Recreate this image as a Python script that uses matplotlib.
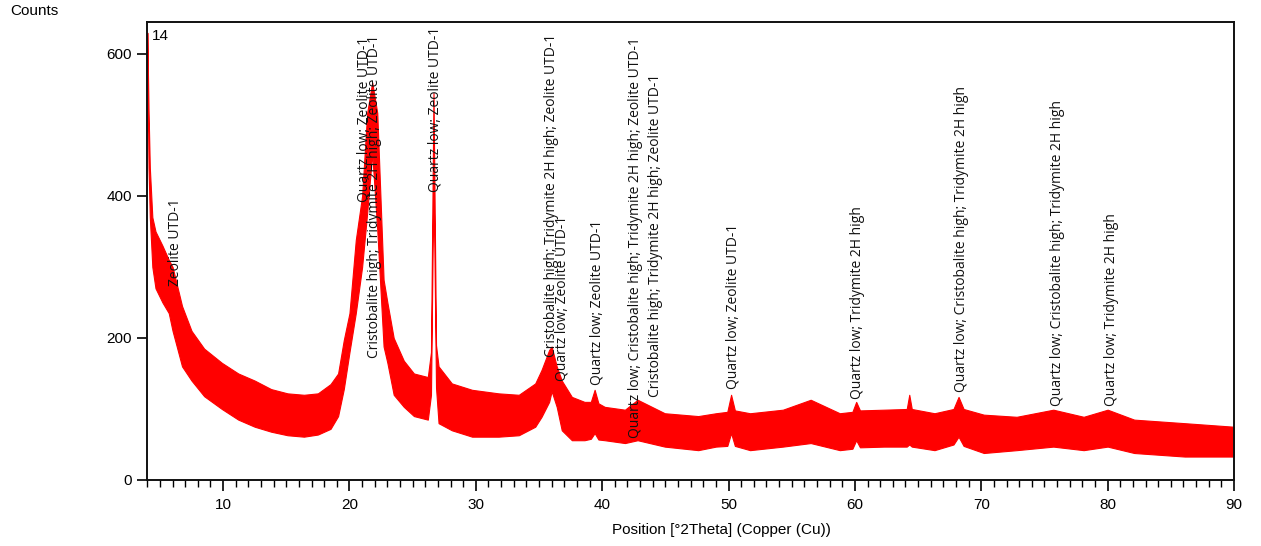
import matplotlib
matplotlib.use('Agg')
import matplotlib.pyplot as plt
from matplotlib.ticker import MultipleLocator

# Diffractogram envelope (counts): upper and lower edge of the noisy trace
pos = [4.00, 4.10, 4.20, 4.40, 4.65, 5.2, 5.7, 6.0, 6.75, 7.5, 8.5, 9.9, 11.2, 12.5, 13.8,
       15.1, 16.4, 17.5, 18.5, 19.1, 19.55, 20.0, 20.5, 21.0, 21.4, 21.8, 22.2, 22.7, 23.0,
       23.5, 24.3, 25.1, 26.2, 26.45, 26.65, 26.85, 27.05, 28.1, 29.7, 31.8, 33.4, 34.7,
       35.2, 35.8, 36.0, 36.4, 36.8, 37.6, 38.6, 39.1, 39.4, 39.7, 40.2, 41.8, 42.8, 44.95,
       47.6, 49.0, 49.9, 50.2, 50.5, 51.7, 54.3, 56.5, 58.8, 59.8, 60.1, 60.4, 62.3, 64.1,
       64.3, 64.5, 66.3, 67.8, 68.2, 68.6, 70.2, 72.8, 75.7, 78.1, 80.0, 82.1, 86.1, 90.0]
upper = [630, 520, 440, 370, 350, 330, 310, 300, 245, 210, 185, 165, 150, 140, 128,
         122, 120, 122, 135, 150, 197, 235, 338, 400, 517, 560, 517, 282, 250,
         200, 168, 150, 145, 180, 545, 190, 160, 136, 127, 122, 120, 136,
         155, 183, 188, 160, 140, 117, 110, 110, 127, 108, 103, 99, 113, 94,
         90, 94, 96, 120, 98, 94, 99, 113, 94, 96, 110, 98, 99, 100,
         120, 100, 94, 100, 117, 100, 92, 89, 99, 89, 99, 85, 80, 75]
lower = [600, 440, 370, 300, 270, 250, 235, 210, 160, 140, 118, 100, 85, 75, 68,
         63, 61, 64, 72, 90, 128, 180, 235, 300, 376, 460, 352, 188, 165,
         120, 103, 90, 85, 120, 430, 130, 80, 70, 61, 61, 63, 75,
         89, 110, 125, 103, 70, 56, 56, 58, 66, 57, 56, 52, 56, 47,
         42, 47, 48, 66, 48, 42, 47, 52, 42, 44, 56, 46, 47, 47,
         50, 47, 42, 50, 61, 48, 38, 42, 47, 42, 47, 38, 33, 33]

# Phase labels: position (°2θ), count at label start, text
label_pos = [6.25, 21.15, 21.97, 26.8, 36.0, 36.85, 39.6, 42.6, 44.2, 50.35, 60.2, 68.46, 76.0, 80.3]
label_cnt = [273, 392, 172, 405, 173, 140, 134, 59, 117, 128, 114, 124, 104, 104]
label_txt = [
    'Zeolite UTD-1',
    'Quartz low; Zeolite UTD-1',
    'Cristobalite high; Tridymite 2H high; Zeolite UTD-1',
    'Quartz low; Zeolite UTD-1',
    'Cristobalite high; Tridymite 2H high; Zeolite UTD-1',
    'Quartz low; Zeolite UTD-1',
    'Quartz low; Zeolite UTD-1',
    'Quartz low; Cristobalite high; Tridymite 2H high; Zeolite UTD-1',
    'Cristobalite high; Tridymite 2H high; Zeolite UTD-1',
    'Quartz low; Zeolite UTD-1',
    'Quartz low; Tridymite 2H high',
    'Quartz low; Cristobalite high; Tridymite 2H high',
    'Quartz low; Cristobalite high; Tridymite 2H high',
    'Quartz low; Tridymite 2H high',
]

plt.rcParams['font.family'] = ['Liberation Sans', 'DejaVu Sans']
plt.rcParams['font.size'] = 11

fig = plt.figure(figsize=(12.61, 5.46), dpi=100)
ax = fig.add_axes([0.1168, 0.1209, 0.8618, 0.8388])

ax.fill_between(pos, lower, upper, color='#ff0000', lw=0.8, edgecolor='#ff0000')

for x, c, t in zip(label_pos, label_cnt, label_txt):
    ax.text(x, c, t, rotation=90, ha='center', va='bottom', fontsize=10,
            family=['Open Sans', 'DejaVu Sans'], color='#111111')

ax.set_xlim(4, 90)
ax.set_ylim(0, 645)
ax.xaxis.set_major_locator(MultipleLocator(10))
ax.xaxis.set_minor_locator(MultipleLocator(1))
ax.set_xticks([10, 20, 30, 40, 50, 60, 70, 80, 90])
ax.set_yticks([0, 200, 400, 600])
ax.tick_params(axis='x', which='major', direction='out', length=8, width=1.2, pad=5)
ax.tick_params(axis='x', which='minor', direction='out', length=5, width=1.0)
ax.tick_params(axis='y', direction='out', length=7, width=1.2, pad=4)
for s in ax.spines.values():
    s.set_linewidth(1.4)
    s.set_color('#111111')

ax.text(0.004, 0.985, '14', transform=ax.transAxes, ha='left', va='top', fontsize=11)
fig.text(10 / 1261, 1 - 11 / 546, 'Counts', ha='left', va='center', fontsize=11)
fig.text(721 / 1261, 1 - 530 / 546, 'Position [°2Theta] (Copper (Cu))', ha='center', va='center', fontsize=11)

fig.savefig('out.png', dpi=100)
